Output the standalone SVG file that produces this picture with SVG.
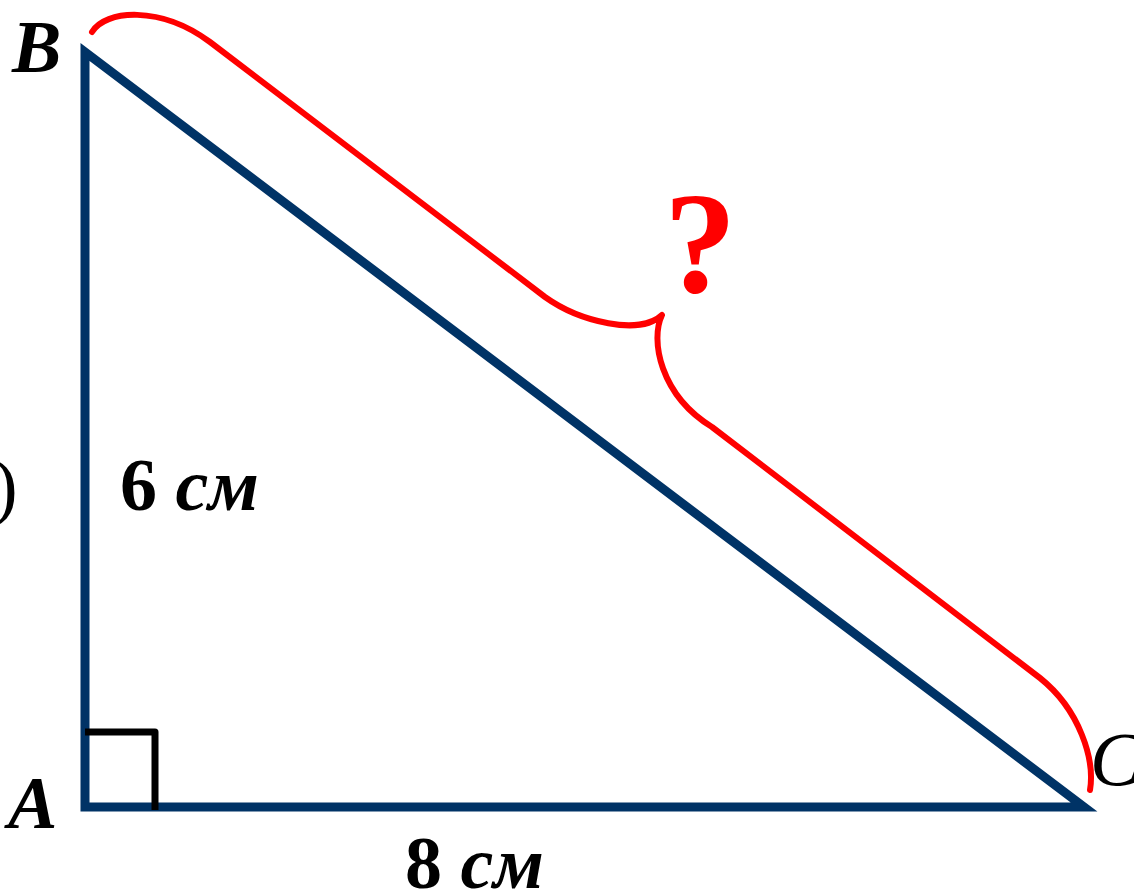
<svg xmlns="http://www.w3.org/2000/svg" width="1134" height="893" viewBox="0 0 1134 893">
<style>
.t{font-family:"Liberation Serif","Times New Roman",serif;fill:#000}
.bi{font-weight:bold;font-style:italic}
.b{font-weight:bold}
</style>
<rect width="1134" height="893" fill="#fff"/>
<g id="triangle">
<polygon points="85,52 85,807 1084,807" fill="none" stroke="#003366" stroke-width="9" stroke-linejoin="miter" stroke-miterlimit="10"/>
</g>
<g id="right-angle">
<path d="M85 732 H155 V810" fill="none" stroke="#000" stroke-width="7" stroke-linejoin="round"/>
</g>
<g id="connectors">
<path id="brace" d="M92 32 C105 10,160 5,210 42 L545 297 C580 322,640 336,662 315 C650 340,660 395,712 427 L1040 678 C1080 710,1095 760,1090 790" fill="none" stroke="#ff0000" stroke-width="6" stroke-linecap="round" stroke-linejoin="round"/>
</g>
<g id="label-B"><text class="t bi" x="12" y="72" font-size="74">B</text></g>
<g id="label-A"><text class="t bi" x="8" y="828" font-size="74">A</text></g>
<g id="label-C"><text class="t" font-style="italic" x="1090" y="785" font-size="76">C</text></g>
<g id="label-paren"><text class="t" x="-7" y="511" font-size="74">)</text></g>
<g id="label-6cm"><text class="t b" x="120" y="510" font-size="74">6 <tspan font-style="italic">см</tspan></text></g>
<g id="label-8cm"><text class="t b" x="405" y="888" font-size="74">8 <tspan font-style="italic">см</tspan></text></g>
<g id="label-q"><text class="t b" x="664" y="292" font-size="145" fill="#ff0000" style="fill:#ff0000">?</text></g>
</svg>
